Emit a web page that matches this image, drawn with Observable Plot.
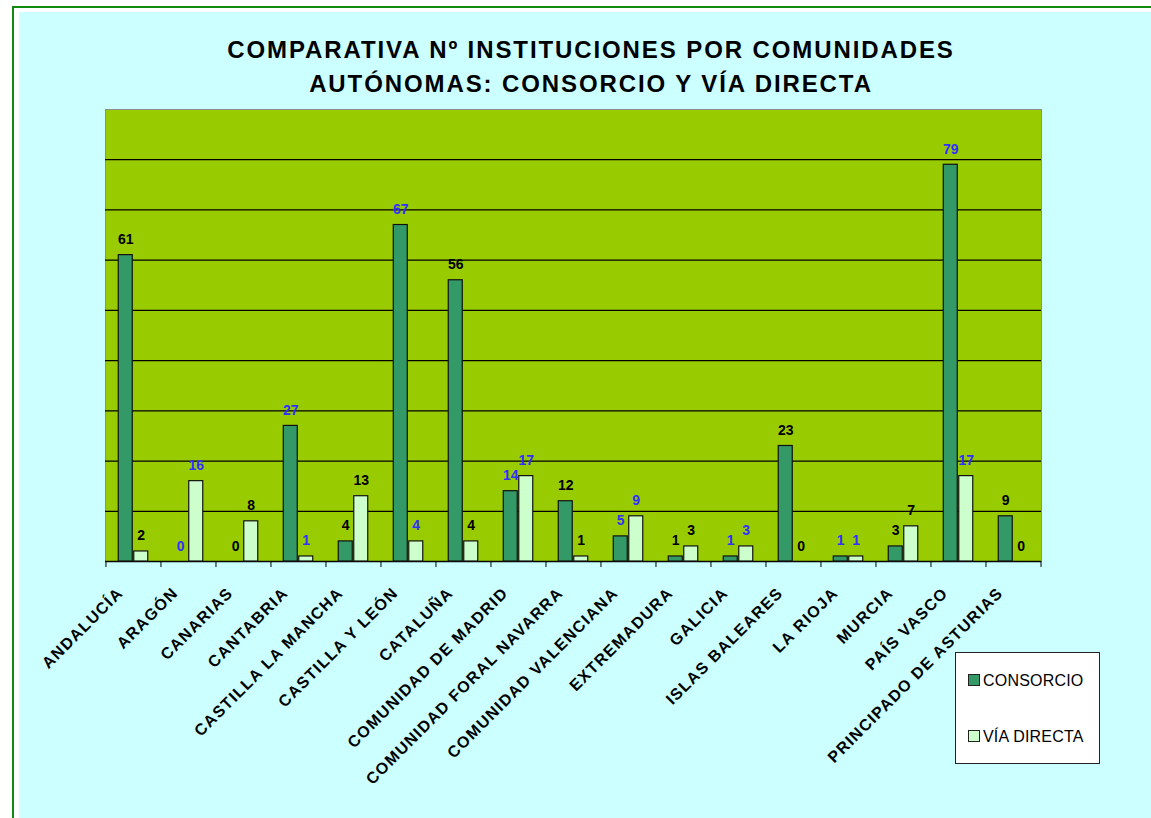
<!DOCTYPE html>
<html>
<head>
<meta charset="utf-8">
<script src="https://cdn.jsdelivr.net/npm/d3@7"></script>
<script src="https://cdn.jsdelivr.net/npm/@observablehq/plot@0.6"></script>
<style>
  html, body { margin: 0; padding: 0; background: #ffffff; }
  body { width: 1151px; height: 818px; position: relative; overflow: hidden;
         font-family: "Liberation Sans", Arial, sans-serif; }
  #frame { position: absolute; left: 12px; top: 6px; right: -10px; bottom: -10px;
           border-left: 2px solid #118a11; border-top: 2px solid #118a11; background: #ffffff; }
  #bg { position: absolute; left: 19px; top: 12px; right: 0; bottom: 0; background: #ccffff; }
  #title { position: absolute; left: 0; top: 33px; width: 1182px; text-align: center;
           font-weight: bold; font-size: 24px; line-height: 34px; letter-spacing: 1.9px; color: #000; }
  #chart { position: absolute; left: 0; top: 100px; }
  #legend { position: absolute; left: 955px; top: 652px; width: 145px; height: 112px; box-sizing: border-box;
            background: #ffffff; border: 1px solid #222; }
  #legend .sw { position: absolute; width: 10px; height: 10px; border: 1px solid #222; }
  #legend .lab { position: absolute; font-size: 16px; line-height: 16px; color: #000; white-space: nowrap; letter-spacing: 0.2px; }
</style>
</head>
<body>
<div id="frame"></div>
<div id="bg"></div>
<div id="title"></div>
<div id="chart"></div>
<div id="legend"></div>
<script>
// ---- data ----
const titleLines = ["COMPARATIVA Nº INSTITUCIONES POR COMUNIDADES", "AUTÓNOMAS: CONSORCIO Y VÍA DIRECTA"];
const regions = ["ANDALUCÍA", "ARAGÓN", "CANARIAS", "CANTABRIA", "CASTILLA LA MANCHA", "CASTILLA Y LEÓN",
  "CATALUÑA", "COMUNIDAD DE MADRID", "COMUNIDAD FORAL NAVARRA", "COMUNIDAD VALENCIANA", "EXTREMADURA",
  "GALICIA", "ISLAS BALEARES", "LA RIOJA", "MURCIA", "PAÍS VASCO", "PRINCIPADO DE ASTURIAS"];
const consorcio  = [61, 0, 0, 27, 4, 67, 56, 14, 12, 5, 1, 1, 23, 1, 3, 79, 9];
const viaDirecta = [2, 16, 8, 1, 13, 4, 4, 17, 1, 9, 3, 3, 0, 1, 7, 17, 0];
const seriesNames = ["CONSORCIO", "VÍA DIRECTA"];
const yMax = 90, gridStep = 10;

// ---- styles ----
const seriesFill = ["#339966", "#ccffcc"];
const labelColors = ["#000000", "#2f2fff"];

// ---- layout ----
const W = 1151, H = 700, mL = 105, mR = 110, mT = 9, mB = 239;
const n = regions.length;
const step = (W - mL - mR) / n;
const barW = 14.5;
const pInner = 1 - barW / step;
const off = 7.75;

const rows = regions.flatMap((r, i) => [
  {region: r, i, s: 0, value: consorcio[i]},
  {region: r, i, s: 1, value: viaDirecta[i]}
]);

document.getElementById("title").innerHTML = titleLines.join("<br>");

const chart = Plot.plot({
  width: W, height: H,
  marginLeft: mL, marginRight: mR, marginTop: mT, marginBottom: mB,
  style: {background: "transparent", overflow: "visible", fontFamily: "Liberation Sans, Arial, sans-serif"},
  x: {domain: regions, paddingInner: pInner, paddingOuter: pInner / 2, axis: null},
  y: {domain: [0, yMax], axis: null},
  color: {type: "identity"},
  marks: [
    Plot.frame({fill: "#99cc00", stroke: "#8c8c8c"}),
    Plot.ruleY(d3.range(gridStep, yMax, gridStep), {stroke: "#000", strokeWidth: 1.2}),
    Plot.ruleY([0], {stroke: "#000", strokeWidth: 1.4}),
    Plot.ruleX(regions, {x: d => d, dx: -step / 2, y1: 0, y2: -1.2, stroke: "#000"}),
    Plot.ruleX([regions[n - 1]], {x: d => d, dx: step / 2, y1: 0, y2: -1.2, stroke: "#000"}),
    Plot.barY(rows.filter(d => d.s === 0 && d.value > 0), {
      x: "region", y: "value", dx: -off, fill: seriesFill[0], stroke: "#111", strokeWidth: 1.2
    }),
    Plot.barY(rows.filter(d => d.s === 1 && d.value > 0), {
      x: "region", y: "value", dx: off, fill: seriesFill[1], stroke: "#111", strokeWidth: 1.2
    }),
    Plot.text(rows.filter(d => d.s === 0), {
      x: "region", y: "value", text: d => String(d.value), dx: -off, dy: -11,
      lineAnchor: "bottom", fontSize: 14, fontWeight: "bold", fill: d => labelColors[d.i % 2]
    }),
    Plot.text(rows.filter(d => d.s === 1), {
      x: "region", y: "value", text: d => String(d.value), dx: off, dy: -11,
      lineAnchor: "bottom", fontSize: 14, fontWeight: "bold", fill: d => labelColors[d.i % 2]
    }),
    Plot.text(regions, {
      x: d => d, frameAnchor: "bottom", rotate: -45, textAnchor: "end", lineAnchor: "bottom",
      dx: -9.5, dy: 32.5, fontSize: 16, fontWeight: "bold", fill: "#000"
    })
  ]
});
d3.select(chart).selectAll("text")
  .filter(function () { return regions.includes(this.textContent); })
  .style("letter-spacing", "1.3px");
document.getElementById("chart").appendChild(chart);

// legend
const legend = document.getElementById("legend");
const itemTops = [21, 77];
seriesNames.forEach((name, k) => {
  const sw = document.createElement("div");
  sw.className = "sw";
  sw.style.left = "12px";
  sw.style.top = (itemTops[k]) + "px";
  sw.style.background = seriesFill[k];
  legend.appendChild(sw);
  const lab = document.createElement("div");
  lab.className = "lab";
  lab.style.left = "27px";
  lab.style.top = (itemTops[k] - 1.5) + "px";
  lab.textContent = name;
  legend.appendChild(lab);
});
</script>
</body>
</html>
